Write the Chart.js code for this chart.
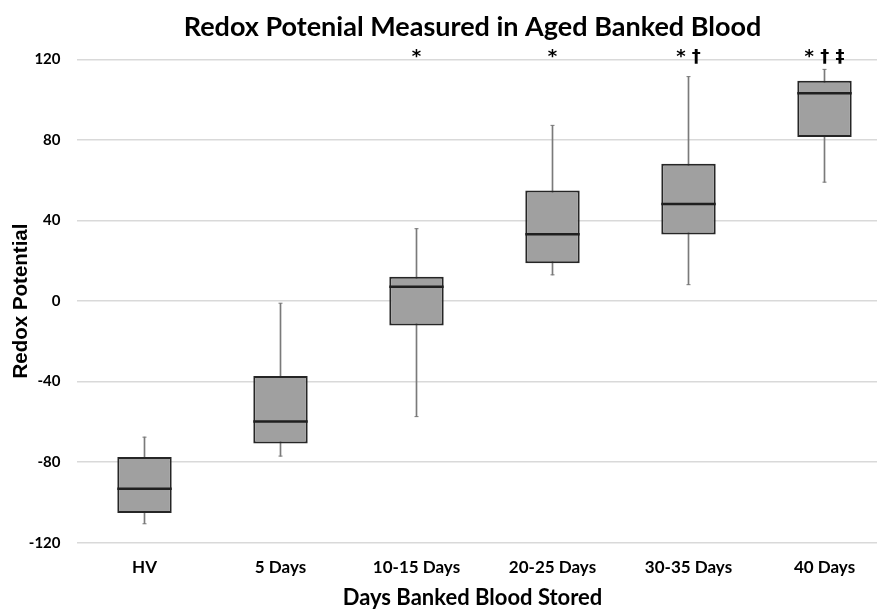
<!DOCTYPE html>
<html>
<head>
<meta charset="utf-8">
<title>Redox Potential</title>
<script src="https://cdn.jsdelivr.net/npm/chart.js@4.4.1/dist/chart.umd.min.js"></script>
<style>
  body { margin: 0; background: #fff; }
  #frame { width: 877px; height: 609px; overflow: hidden; }
  #holder { width: 945px; height: 609px; position: relative; }
</style>
</head>
<body>
<div id="frame"><div id="holder"><canvas id="redoxChart"></canvas></div></div>
<script>
// values
const categories  = ['HV', '5 Days', '10-15 Days', '20-25 Days', '30-35 Days', '40 Days'];
const whiskerLow  = [-110.6, -77.0, -57.4, 13.0, 8.1, 59.0];
const quartile1   = [-105.3, -70.8, -12.2, 18.8, 33.0, 81.4];
const medians     = [-93.2, -59.8, 7.1, 33.1, 48.2, 103.1];
const quartile3   = [-77.5, -37.2, 12.1, 54.8, 68.2, 109.4];
const whiskerHigh = [-67.6, -1.1, 35.9, 87.2, 111.4, 115.0];
const markers     = ['', '', '*', '*', '* †', '* † ‡'];
const yTicks      = [-120, -80, -40, 0, 40, 80, 120];

const boldFont = (size, family) => ({ family: family || 'Lato', weight: 'bold', size: size });

// significance marks above each box, placed on the top tick
const markerPlugin = {
    id: 'markers',
    afterDatasetsDraw(chart) {
        const { ctx, scales } = chart;
        const top = scales.y.getPixelForValue(yTicks[yTicks.length - 1]);
        ctx.save();
        ctx.font = 'bold 18px "DejaVu Sans"';
        ctx.fillStyle = '#000';
        ctx.textAlign = 'center';
        ctx.textBaseline = 'middle';
        markers.forEach((m, i) => {
            if (m) ctx.fillText(m, scales.x.getPixelForValue(i), top - 2);
        });
        ctx.restore();
    }
};

const capStyle = {
    type: 'line',
    showLine: false,
    pointStyle: 'line',
    pointRadius: 2,
    pointHoverRadius: 2,
    pointBorderWidth: 1,
    pointBorderColor: '#7a7a7a',
    order: 3
};

const redoxData = {
    labels: categories,
    datasets: [{
        type: 'line',
        label: 'Median',
        data: medians,
        showLine: false,
        pointStyle: 'line',
        pointRadius: 27.2,
        pointHoverRadius: 27.2,
        pointBorderWidth: 2.5,
        pointHoverBorderWidth: 2.5,
        pointBorderColor: '#1f1f1f',
        order: 0
    }, {
        label: 'Interquartile range',
        data: categories.map((c, i) => [quartile1[i], quartile3[i]]),
        backgroundColor: '#a0a0a0',
        borderColor: '#262626',
        borderWidth: 2,
        borderSkipped: false,
        barPercentage: 0.4,
        categoryPercentage: 1,
        grouped: false,
        order: 1
    }, {
        label: 'Range',
        data: categories.map((c, i) => [whiskerLow[i], whiskerHigh[i]]),
        backgroundColor: '#7a7a7a',
        barThickness: 1,
        grouped: false,
        order: 2
    },
    Object.assign({ label: 'Min', data: whiskerLow }, capStyle),
    Object.assign({ label: 'Max', data: whiskerHigh }, capStyle)
    ]
};

const options = {
    responsive: true,
    maintainAspectRatio: false,
    animation: false,
    events: [],
    scales: {
        x: {
            offset: true,
            grid: { display: false },
            border: { display: false },
            ticks: { color: '#000', font: boldFont(17), padding: 7 },
            afterFit: (s) => { s.height = 43.3; }
        },
        y: {
            min: -120,
            max: 120,
            afterBuildTicks: (s) => { s.ticks = yTicks.map(v => ({ value: v })); },
            grid: { color: '#d9d9d9', lineWidth: 1.5, drawTicks: false },
            border: { display: false },
            ticks: { color: '#000', font: boldFont(15), padding: 16 },
            title: {
                display: true,
                text: 'Redox Potential',
                color: '#000',
                font: boldFont(20.5, 'Liberation Sans'),
                padding: { top: 8.7, bottom: 0 }
            },
            afterFit: (s) => { s.width = 76.5; }
        },
        yPad: {
            axis: 'y',
            position: 'right',
            display: true,
            grid: { display: false },
            ticks: { display: false },
            border: { display: false },
            afterFit: (s) => { s.width = 52.5; }
        }
    },
    plugins: {
        legend: { display: false },
        tooltip: { enabled: false },
        title: {
            display: true,
            text: 'Redox Potenial Measured in Aged Banked Blood',
            color: '#000',
            font: { family: 'Lato', weight: 'bold', size: 27, lineHeight: 1.2 },
            padding: { top: 11, bottom: 15.9 }
        },
        subtitle: {
            display: true,
            position: 'bottom',
            text: 'Days Banked Blood Stored',
            color: '#000',
            font: { family: 'Lato', weight: 'bold', size: 22, lineHeight: 1 },
            padding: { top: 1, bottom: 0 }
        }
    }
};

const redoxChart = new Chart(document.getElementById('redoxChart'), {
    type: 'bar',
    data: redoxData,
    options: options,
    plugins: [markerPlugin]
});
</script>
</body>
</html>
